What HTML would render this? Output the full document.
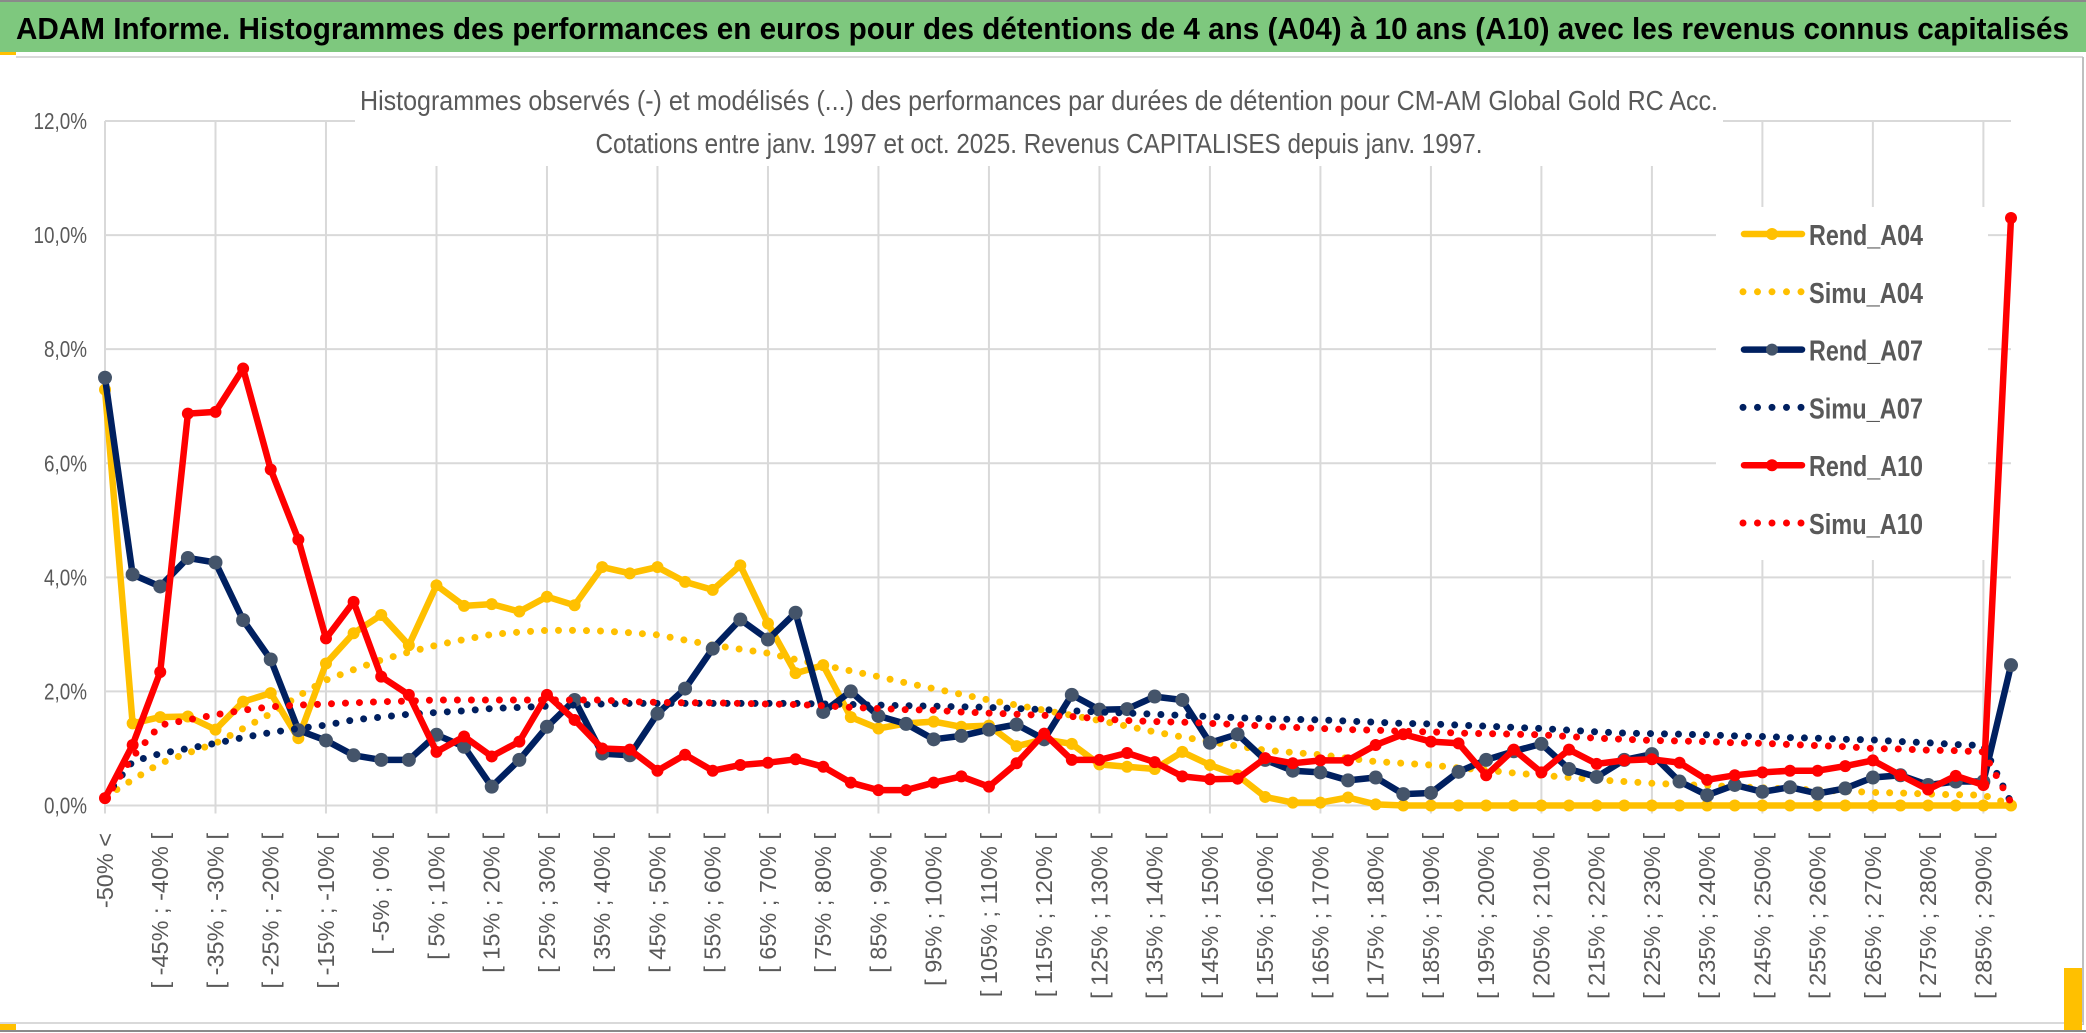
<!DOCTYPE html>
<html><head><meta charset="utf-8"><style>
html,body{margin:0;padding:0;background:#fff;}
svg{display:block;font-family:"Liberation Sans",sans-serif;}
</style></head><body>
<svg id="chart" width="2086" height="1033" viewBox="0 0 2086 1033" xmlns="http://www.w3.org/2000/svg">
  <rect x="0" y="0" width="2086" height="1033" fill="#fff"/>
  <line x1="0" y1="1" x2="2086" y2="1" stroke="#8a8a8a" stroke-width="2"/>
  <rect x="0" y="2" width="2086" height="50" fill="#7ec87e"/>
  <text x="16" y="39" font-size="31" font-weight="bold" fill="#000" textLength="2053" lengthAdjust="spacingAndGlyphs">ADAM Informe. Histogrammes des performances en euros pour des détentions de 4 ans (A04) à 10 ans (A10) avec les revenus connus capitalisés</text>
  <line x1="16" y1="57" x2="2083" y2="57" stroke="#d9d9d9" stroke-width="2"/>
  <rect x="0" y="52" width="16" height="3" fill="#ffc000"/>
  <line x1="2083" y1="57" x2="2083" y2="1025" stroke="#bfbfbf" stroke-width="2"/>
  <line x1="0" y1="1023" x2="2083" y2="1023" stroke="#d9d9d9" stroke-width="2"/>
  <line x1="0" y1="1031" x2="2086" y2="1031" stroke="#8a8a8a" stroke-width="2"/>
  <rect x="0" y="1024" width="16" height="6" fill="#ffc000"/>
  <rect x="2064" y="968" width="18" height="62" fill="#ffc000"/>
  <g id="grid"></g>
  <g id="yaxis"></g>
  <g id="xaxis"></g>
  <rect x="355" y="60" width="1368" height="106" fill="#fff"/>
  <text x="1039" y="110" font-size="28" fill="#595959" text-anchor="middle" textLength="1358" lengthAdjust="spacingAndGlyphs">Histogrammes observés (-) et modélisés (...) des performances par durées de détention pour CM-AM Global Gold RC Acc.</text>
  <text x="1039" y="153" font-size="28" fill="#595959" text-anchor="middle" textLength="887" lengthAdjust="spacingAndGlyphs">Cotations entre janv. 1997 et oct. 2025. Revenus CAPITALISES depuis janv. 1997.</text>
  <rect x="1716" y="207" width="272" height="353" fill="#fff"/>
  <g id="series"></g>
  <g id="legend"></g>
</svg>
<script>
const categories = ["-50% <","[ -50% ; -45% [","[ -45% ; -40% [","[ -40% ; -35% [","[ -35% ; -30% [","[ -30% ; -25% [","[ -25% ; -20% [","[ -20% ; -15% [","[ -15% ; -10% [","[ -10% ; -5% [","[ -5% ; 0% [","[ 0% ; 5% [","[ 5% ; 10% [","[ 10% ; 15% [","[ 15% ; 20% [","[ 20% ; 25% [","[ 25% ; 30% [","[ 30% ; 35% [","[ 35% ; 40% [","[ 40% ; 45% [","[ 45% ; 50% [","[ 50% ; 55% [","[ 55% ; 60% [","[ 60% ; 65% [","[ 65% ; 70% [","[ 70% ; 75% [","[ 75% ; 80% [","[ 80% ; 85% [","[ 85% ; 90% [","[ 90% ; 95% [","[ 95% ; 100% [","[ 100% ; 105% [","[ 105% ; 110% [","[ 110% ; 115% [","[ 115% ; 120% [","[ 120% ; 125% [","[ 125% ; 130% [","[ 130% ; 135% [","[ 135% ; 140% [","[ 140% ; 145% [","[ 145% ; 150% [","[ 150% ; 155% [","[ 155% ; 160% [","[ 160% ; 165% [","[ 165% ; 170% [","[ 170% ; 175% [","[ 175% ; 180% [","[ 180% ; 185% [","[ 185% ; 190% [","[ 190% ; 195% [","[ 195% ; 200% [","[ 200% ; 205% [","[ 205% ; 210% [","[ 210% ; 215% [","[ 215% ; 220% [","[ 220% ; 225% [","[ 225% ; 230% [","[ 230% ; 235% [","[ 235% ; 240% [","[ 240% ; 245% [","[ 245% ; 250% [","[ 250% ; 255% [","[ 255% ; 260% [","[ 260% ; 265% [","[ 265% ; 270% [","[ 270% ; 275% [","[ 275% ; 280% [","[ 280% ; 285% [","[ 285% ; 290% [","[ 290% ; 295% ["];
const rendA04 = [7.29,1.44,1.55,1.56,1.33,1.82,1.97,1.18,2.49,3.02,3.34,2.81,3.86,3.50,3.53,3.40,3.66,3.51,4.18,4.07,4.18,3.92,3.78,4.21,3.19,2.32,2.46,1.55,1.35,1.44,1.47,1.38,1.40,1.04,1.16,1.08,0.72,0.68,0.64,0.94,0.71,0.53,0.15,0.05,0.05,0.14,0.02,0,0,0,0,0,0,0,0,0,0,0,0,0,0,0,0,0,0,0,0,0,0,0];
const simuA04 = [0.15,0.45,0.74,0.92,1.09,1.35,1.61,1.92,2.20,2.38,2.55,2.69,2.81,2.91,3.00,3.04,3.07,3.07,3.06,3.03,2.99,2.90,2.81,2.74,2.67,2.56,2.46,2.36,2.26,2.15,2.05,1.95,1.85,1.76,1.67,1.58,1.49,1.39,1.29,1.20,1.12,1.04,0.97,0.93,0.89,0.83,0.77,0.74,0.71,0.66,0.62,0.57,0.53,0.49,0.45,0.42,0.39,0.37,0.35,0.33,0.31,0.29,0.27,0.25,0.23,0.22,0.20,0.19,0.18,0.02];
const rendA07 = [7.50,4.05,3.84,4.34,4.26,3.25,2.56,1.32,1.14,0.88,0.80,0.80,1.24,1.03,0.33,0.80,1.38,1.85,0.91,0.88,1.61,2.05,2.75,3.26,2.91,3.38,1.64,2.00,1.57,1.43,1.16,1.22,1.33,1.42,1.16,1.94,1.68,1.69,1.91,1.85,1.10,1.25,0.80,0.61,0.58,0.44,0.49,0.20,0.22,0.59,0.80,0.95,1.08,0.64,0.50,0.80,0.90,0.42,0.18,0.36,0.24,0.32,0.21,0.30,0.49,0.53,0.36,0.42,0.42,2.46];
const simuA07 = [0.15,0.77,0.91,1.00,1.09,1.19,1.28,1.35,1.41,1.50,1.55,1.60,1.63,1.66,1.70,1.72,1.74,1.76,1.78,1.79,1.79,1.79,1.79,1.79,1.79,1.79,1.78,1.77,1.76,1.75,1.74,1.73,1.72,1.70,1.68,1.66,1.64,1.62,1.60,1.58,1.56,1.54,1.52,1.51,1.50,1.48,1.46,1.44,1.43,1.41,1.39,1.37,1.35,1.32,1.29,1.27,1.26,1.25,1.24,1.22,1.21,1.19,1.18,1.16,1.15,1.12,1.10,1.07,1.05,0.05];
const rendA10 = [0.13,1.06,2.34,6.87,6.90,7.66,5.89,4.66,2.93,3.57,2.26,1.94,0.94,1.21,0.86,1.12,1.94,1.50,1.00,0.98,0.61,0.89,0.61,0.71,0.75,0.81,0.68,0.40,0.27,0.27,0.40,0.51,0.33,0.74,1.26,0.80,0.80,0.92,0.76,0.51,0.46,0.47,0.83,0.74,0.79,0.79,1.06,1.25,1.12,1.09,0.53,0.98,0.58,0.98,0.73,0.79,0.81,0.75,0.45,0.53,0.58,0.61,0.61,0.69,0.79,0.53,0.28,0.52,0.36,10.30];
const simuA10 = [0.10,0.85,1.41,1.50,1.59,1.67,1.73,1.76,1.78,1.80,1.82,1.83,1.85,1.85,1.85,1.85,1.85,1.85,1.85,1.82,1.81,1.80,1.80,1.79,1.78,1.77,1.75,1.72,1.70,1.68,1.67,1.64,1.62,1.60,1.58,1.56,1.52,1.49,1.47,1.46,1.44,1.42,1.39,1.37,1.35,1.33,1.32,1.30,1.29,1.27,1.26,1.25,1.24,1.21,1.18,1.16,1.14,1.13,1.12,1.10,1.09,1.07,1.05,1.03,1.00,0.99,0.97,0.96,0.94,0.05];
const yTicks = [0,2,4,6,8,10,12];
const yTickLabels = ["0,0%","2,0%","4,0%","6,0%","8,0%","10,0%","12,0%"];
const seriesNames = ["Rend_A04","Simu_A04","Rend_A07","Simu_A07","Rend_A10","Simu_A10"];

const NS = "http://www.w3.org/2000/svg";
const X0 = 105, X1 = 2011, Y0 = 805.5, YTOP = 121;
const yMax = 12;
function xs(i){ return X0 + (X1 - X0) * i / (categories.length - 1); }
function ys(v){ return Y0 - (Y0 - YTOP) * v / yMax; }
function mk(tag, attrs, parent){ const e = document.createElementNS(NS, tag); for (const k in attrs) e.setAttribute(k, attrs[k]); parent.appendChild(e); return e; }

const grid = document.getElementById('grid');
yTicks.forEach((t, i) => {
  const l = mk('line', {x1: X0, x2: X1, y1: ys(t), y2: ys(t), stroke: '#d9d9d9', 'stroke-width': 2}, grid);
  
  
});
for (let i = 0; i < categories.length; i += 4) {
  const l = mk('line', {x1: xs(i), x2: xs(i), y1: YTOP, y2: Y0 + 8, stroke: '#d9d9d9', 'stroke-width': 2}, grid);
  
  
}
const yaxis = document.getElementById('yaxis');
yTicks.forEach((t, i) => {
  const tx = mk('text', {x: 0, y: 0, 'font-size': 23, fill: '#595959', 'text-anchor': 'end', transform: `translate(87,${ys(t) + 8}) scale(0.82,1)`}, yaxis);
  tx.textContent = yTickLabels[i];
  
  
});
const xaxis = document.getElementById('xaxis');
for (let i = 0; i < categories.length; i += 2) {
  const tx = mk('text', {x: 0, y: 0, 'font-size': 23.5, fill: '#595959', 'text-anchor': 'end', transform: `translate(${xs(i) + 8},833) rotate(-90)`}, xaxis);
  tx.textContent = categories[i];
  
  
}

const series = document.getElementById('series');
function pts(arr){ return arr.map((v, i) => xs(i).toFixed(1) + ',' + ys(v).toFixed(1)).join(' '); }
function rend(arr, color, mcolor, r, name){
  const g = mk('g', {}, series);
  
  
  const pl = mk('polyline', {points: pts(arr), fill: 'none', stroke: color, 'stroke-width': 6.5, 'stroke-linejoin': 'round'}, g);
  
  
  arr.forEach((v, i) => {
    const c = mk('circle', {cx: xs(i), cy: ys(v), r: r, fill: mcolor}, g);
    
    
  });
}
function simu(arr, color, name){
  const pl = mk('polyline', {points: pts(arr), fill: 'none', stroke: color, 'stroke-width': 7, 'stroke-linecap': 'round', 'stroke-dasharray': '0 14'}, series);
  
  
}
rend(rendA04, '#ffc000', '#ffc000', 6, 'rend-a04');
simu(simuA04, '#ffc000', 'simu-a04');
rend(rendA07, '#002060', '#44546a', 7, 'rend-a07');
simu(simuA07, '#002060', 'simu-a07');
rend(rendA10, '#ff0000', '#ff0000', 6, 'rend-a10');
simu(simuA10, '#ff0000', 'simu-a10');

const legend = document.getElementById('legend');
const legColors = ['#ffc000','#ffc000','#002060','#002060','#ff0000','#ff0000'];
const legMarker = ['#ffc000',null,'#44546a',null,'#ff0000',null];
seriesNames.forEach((n, i) => {
  const y = 234 + i * 57.8;
  const g = mk('g', {}, legend);
  
  
  if (i % 2 === 0) {
    mk('line', {x1: 1744, x2: 1802, y1: y, y2: y, stroke: legColors[i], 'stroke-width': 6.5, 'stroke-linecap': 'round'}, g);
    mk('circle', {cx: 1772, cy: y, r: 6, fill: legMarker[i]}, g);
  } else {
    mk('line', {x1: 1743, x2: 1802, y1: y, y2: y, stroke: legColors[i], 'stroke-width': 7, 'stroke-linecap': 'round', 'stroke-dasharray': '0 14.5'}, g);
  }
  const t = mk('text', {x: 1809, y: y + 11, 'font-size': 29, 'font-weight': 'bold', fill: '#595959', textLength: 114, lengthAdjust: 'spacingAndGlyphs'}, g);
  t.textContent = n;
});
</script>
</body></html>
